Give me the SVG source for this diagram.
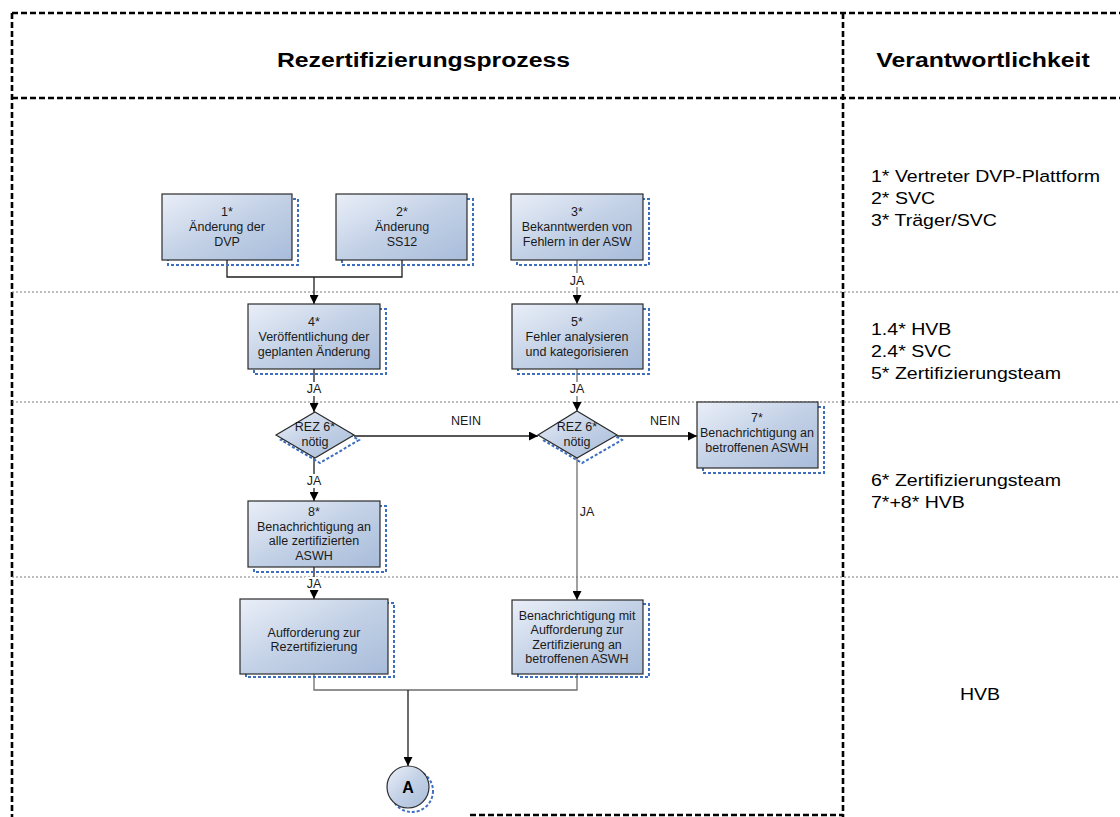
<svg xmlns="http://www.w3.org/2000/svg" width="1120" height="817" viewBox="0 0 1120 817">
<style>
.frame{fill:none;stroke:#000;stroke-width:2.6;stroke-dasharray:6 3}
.lane{fill:none;stroke:#7a7a7a;stroke-width:1;stroke-dasharray:2 2}
.box{fill:url(#g);stroke:#2b2b2b;stroke-width:1.2}
.sh{fill:none;stroke:#3d6ebf;stroke-width:2;stroke-dasharray:3 2}
.t{font-family:"Liberation Sans",Arial,sans-serif;font-size:12.5px;fill:#1a1a1a;text-anchor:middle}
.h{font-family:"Liberation Sans",Arial,sans-serif;font-size:21px;font-weight:bold;fill:#000;text-anchor:middle}
.r{font-family:"Liberation Sans",Arial,sans-serif;font-size:17px;fill:#000}
.c{fill:none;stroke:#1e1e1e;stroke-width:1.3}
.cg{fill:none;stroke:#6e6e6e;stroke-width:1.3}
.lb{fill:#fff}
</style>
<defs>
<linearGradient id="g" x1="0" y1="0" x2="1" y2="1">
<stop offset="0" stop-color="#eaeff8"/>
<stop offset="0.5" stop-color="#c3d1e6"/>
<stop offset="1" stop-color="#a8bcda"/>
</linearGradient>
<marker id="arr" viewBox="0 0 10 10" refX="10" refY="5" markerWidth="9" markerHeight="9" markerUnits="userSpaceOnUse" orient="auto">
<path d="M0,0 L10,5 L0,10 z" fill="#000"/>
</marker>
</defs>
<rect width="1120" height="817" fill="#fff"/>

<g id="frame">
<line class="frame" x1="12" y1="13" x2="1120" y2="13"/>
<line class="frame" x1="12" y1="98" x2="1120" y2="98"/>
<line class="frame" x1="12" y1="13" x2="12" y2="817"/>
<line class="frame" x1="843" y1="13" x2="843" y2="817"/>
<line class="frame" x1="470" y1="815" x2="843" y2="815"/>
<line class="lane" x1="12" y1="292" x2="1120" y2="292"/>
<line class="lane" x1="12" y1="402" x2="1120" y2="402"/>
<line class="lane" x1="12" y1="577" x2="1120" y2="577"/>
</g>

<g id="headers">
<g transform="translate(423.5,67) scale(1.18,1)"><text class="h" x="0" y="0">Rezertifizierungsprozess</text></g>
<g transform="translate(983,67) scale(1.18,1)"><text class="h" x="0" y="0">Verantwortlichkeit</text></g>
</g>

<g id="responsibilities">
<g transform="translate(871,0) scale(1.15,1)">
<text class="r" x="0" y="182">1* Vertreter DVP-Plattform</text>
<text class="r" x="0" y="204">2* SVC</text>
<text class="r" x="0" y="226">3* Träger/SVC</text>
<text class="r" x="0" y="335">1.4* HVB</text>
<text class="r" x="0" y="357">2.4* SVC</text>
<text class="r" x="0" y="379">5* Zertifizierungsteam</text>
<text class="r" x="0" y="486">6* Zertifizierungsteam</text>
<text class="r" x="0" y="508">7*+8* HVB</text>
</g>
<g transform="translate(980,700) scale(1.15,1)"><text class="r" x="0" y="0" text-anchor="middle">HVB</text></g>
</g>

<g id="connectors">
<polyline class="c" points="227,260 227,277 402,277 402,260"/>
<line class="c" x1="314" y1="277" x2="314" y2="304" marker-end="url(#arr)"/>
<line class="cg" x1="577" y1="260" x2="577" y2="304" marker-end="url(#arr)"/>
<line class="c" x1="314" y1="369" x2="314" y2="412" marker-end="url(#arr)"/>
<line class="cg" x1="577" y1="369" x2="577" y2="411" marker-end="url(#arr)"/>
<line class="c" x1="354" y1="436" x2="538" y2="436" marker-end="url(#arr)"/>
<line class="c" x1="617" y1="436" x2="697" y2="436" marker-end="url(#arr)"/>
<line class="c" x1="314" y1="458" x2="314" y2="501" marker-end="url(#arr)"/>
<line class="cg" x1="577" y1="458" x2="577" y2="600" marker-end="url(#arr)"/>
<line class="c" x1="314" y1="567" x2="314" y2="599" marker-end="url(#arr)"/>
<polyline class="cg" points="314,674 314,690 577,690 577,674"/>
<line class="c" x1="408" y1="690" x2="408" y2="766" marker-end="url(#arr)"/>
<rect class="lb" x="568" y="273" width="18" height="14"/>
<text class="t" x="577" y="285">JA</text>
<rect class="lb" x="305" y="382" width="18" height="14"/>
<text class="t" x="314" y="393">JA</text>
<rect class="lb" x="568" y="382" width="18" height="14"/>
<text class="t" x="577" y="393">JA</text>
<rect class="lb" x="305" y="474" width="18" height="14"/>
<text class="t" x="314" y="485">JA</text>
<rect class="lb" x="305" y="577" width="18" height="13"/>
<text class="t" x="314" y="588">JA</text>
<text class="t" x="587" y="516">JA</text>
<text class="t" x="466" y="425">NEIN</text>
<text class="t" x="665" y="425">NEIN</text>
</g>

<g id="n1">
<rect class="sh" x="168" y="199" width="130" height="66"/>
<rect class="box" x="162" y="194" width="130" height="66"/>
<text class="t" x="227" y="216">1*</text>
<text class="t" x="227" y="231">Änderung der</text>
<text class="t" x="227" y="246">DVP</text>
</g>
<g id="n2">
<rect class="sh" x="342" y="199" width="131" height="66"/>
<rect class="box" x="336" y="194" width="131" height="66"/>
<text class="t" x="402" y="216">2*</text>
<text class="t" x="402" y="231">Änderung</text>
<text class="t" x="402" y="246">SS12</text>
</g>
<g id="n3">
<rect class="sh" x="517" y="199" width="132" height="66"/>
<rect class="box" x="511" y="194" width="132" height="66"/>
<text class="t" x="577" y="216">3*</text>
<text class="t" x="577" y="231">Bekanntwerden von</text>
<text class="t" x="577" y="246">Fehlern in der ASW</text>
</g>
<g id="n4">
<rect class="sh" x="254" y="309" width="132" height="65"/>
<rect class="box" x="248" y="304" width="132" height="65"/>
<text class="t" x="314" y="326">4*</text>
<text class="t" x="314" y="341">Veröffentlichung der</text>
<text class="t" x="314" y="356">geplanten Änderung</text>
</g>
<g id="n5">
<rect class="sh" x="518" y="309" width="131" height="65"/>
<rect class="box" x="512" y="304" width="131" height="65"/>
<text class="t" x="577" y="326">5*</text>
<text class="t" x="577" y="341">Fehler analysieren</text>
<text class="t" x="577" y="356">und kategorisieren</text>
</g>
<g id="d1">
<polygon class="sh" points="320,417 359,440 320,463 281,440"/>
<polygon class="box" points="315,412 354,435 315,458 276,435"/>
<text class="t" x="315" y="431">REZ 6*</text>
<text class="t" x="315" y="446">nötig</text>
</g>
<g id="d2">
<polygon class="sh" points="582,416 622,440 582,463 543,440"/>
<polygon class="box" points="577,411 617,435 577,458 538,435"/>
<text class="t" x="577" y="431">REZ 6*</text>
<text class="t" x="577" y="446">nötig</text>
</g>
<g id="n7">
<rect class="sh" x="703" y="407" width="121" height="66"/>
<rect class="box" x="697" y="402" width="121" height="66"/>
<text class="t" x="757" y="422">7*</text>
<text class="t" x="757" y="437">Benachrichtigung an</text>
<text class="t" x="757" y="452">betroffenen ASWH</text>
</g>
<g id="n8">
<rect class="sh" x="254" y="506" width="132" height="66"/>
<rect class="box" x="248" y="501" width="132" height="66"/>
<text class="t" x="314" y="516">8*</text>
<text class="t" x="314" y="530.5">Benachrichtigung an</text>
<text class="t" x="314" y="545">alle zertifizierten</text>
<text class="t" x="314" y="559.5">ASWH</text>
</g>
<g id="n9">
<rect class="sh" x="246" y="603" width="148" height="74"/>
<rect class="box" x="240" y="599" width="148" height="75"/>
<text class="t" x="314" y="637">Aufforderung zur</text>
<text class="t" x="314" y="650.5">Rezertifizierung</text>
</g>
<g id="n10">
<rect class="sh" x="518" y="604" width="131" height="73"/>
<rect class="box" x="512" y="600" width="131" height="74"/>
<text class="t" x="577" y="619.5">Benachrichtigung mit</text>
<text class="t" x="577" y="634">Aufforderung zur</text>
<text class="t" x="577" y="648.5">Zertifizierung an</text>
<text class="t" x="577" y="663">betroffenen ASWH</text>
</g>
<g id="nA">
<circle class="sh" cx="412" cy="791" r="21"/>
<circle class="box" cx="408" cy="787" r="21"/>
<text class="t" x="408" y="793" style="font-size:16px;font-weight:bold;fill:#000">A</text>
</g>
</svg>
